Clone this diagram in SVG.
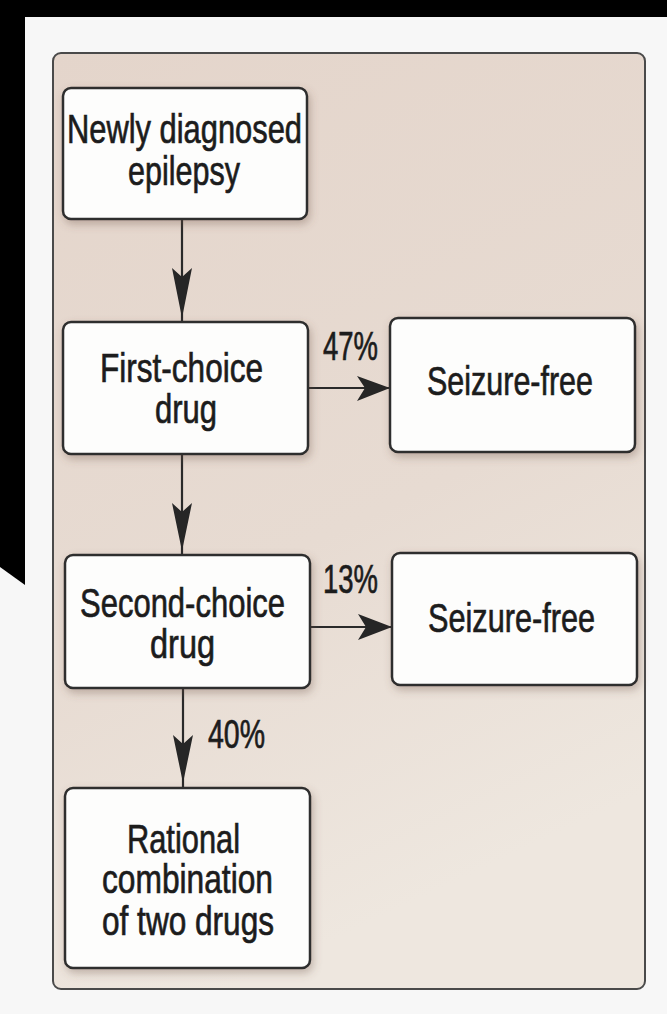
<svg xmlns="http://www.w3.org/2000/svg" width="667" height="1014" viewBox="0 0 667 1014">
  <style>
    .box { fill: #fdfdfc; stroke: #2e2e2e; stroke-width: 2.5; filter: url(#shadow); }
    .t { font-family: "Liberation Sans", Arial, sans-serif; font-size: 41px; fill: #1c1c1c; stroke: #1c1c1c; stroke-width: 0.7; text-anchor: middle; }
    .lbl { font-family: "Liberation Sans", Arial, sans-serif; font-size: 40px; fill: #1c1c1c; stroke: #1c1c1c; stroke-width: 0.7; text-anchor: middle; }
    .line { stroke: #2a2a2a; stroke-width: 2.2; fill: none; }
    .head { fill: #262626; stroke: none; }
  </style>
  <defs>
    <linearGradient id="panelGrad" x1="0" y1="0" x2="0.3" y2="1">
      <stop offset="0" stop-color="#e4d5cb"/>
      <stop offset="0.6" stop-color="#e7dbd2"/>
      <stop offset="1" stop-color="#eee7df"/>
    </linearGradient>
    <filter id="shadow" x="-10%" y="-10%" width="125%" height="130%">
      <feDropShadow dx="2" dy="4" stdDeviation="4" flood-color="#6b5040" flood-opacity="0.35"/>
    </filter>
  </defs>

  <!-- background -->
  <rect x="0" y="0" width="667" height="1014" fill="#f7f7f7"/>
  <rect x="0" y="0" width="667" height="17" fill="#000"/>
  <polygon points="0,0 25,0 25,585 0,567" fill="#000"/>

  <!-- panel -->
  <rect id="panel" x="53" y="53" width="592" height="936" rx="8" fill="url(#panelGrad)" stroke="#4a4a4a" stroke-width="2"/>

  <g id="connectors">
    <line class="line" x1="182" y1="219" x2="182" y2="322"/>
    <path class="head" d="M182,318 L172,268 L182,277 L192,268 Z"/>
    <line class="line" x1="182" y1="454" x2="182" y2="555"/>
    <path class="head" d="M182,551 L172,503 L182,512 L192,503 Z"/>
    <line class="line" x1="183" y1="688" x2="183" y2="788"/>
    <path class="head" d="M183,783 L173,735 L183,744 L193,735 Z"/>
    <line class="line" x1="308" y1="388" x2="390" y2="388"/>
    <path class="head" d="M390,388 L357,376 L365,388 L357,401 Z"/>
    <line class="line" x1="310" y1="627" x2="392" y2="627"/>
    <path class="head" d="M392,627 L358,614 L366,627 L358,640 Z"/>
    <text class="lbl" x="350.5" y="360" textLength="55" lengthAdjust="spacingAndGlyphs">47%</text>
    <text class="lbl" x="350.5" y="593" textLength="55" lengthAdjust="spacingAndGlyphs">13%</text>
    <text class="lbl" x="236.5" y="748" textLength="57" lengthAdjust="spacingAndGlyphs">40%</text>
  </g>

  <g id="node-newly">
    <rect class="box" x="63" y="88" width="244" height="131" rx="8"/>
    <text class="t"><tspan x="184.5" y="143" textLength="235" lengthAdjust="spacingAndGlyphs">Newly diagnosed</tspan><tspan x="184" y="185" textLength="112" lengthAdjust="spacingAndGlyphs">epilepsy</tspan></text>
  </g>

  <g id="node-first">
    <rect class="box" x="63" y="322" width="245" height="132" rx="8"/>
    <text class="t"><tspan x="181.5" y="382" textLength="163" lengthAdjust="spacingAndGlyphs">First-choice</tspan><tspan x="186" y="423" textLength="62" lengthAdjust="spacingAndGlyphs">drug</tspan></text>
  </g>

  <g id="node-second">
    <rect class="box" x="65" y="555" width="245" height="133" rx="8"/>
    <text class="t"><tspan x="182.5" y="617" textLength="205" lengthAdjust="spacingAndGlyphs">Second-choice</tspan><tspan x="182.5" y="658" textLength="65" lengthAdjust="spacingAndGlyphs">drug</tspan></text>
  </g>

  <g id="node-rational">
    <rect class="box" x="65" y="788" width="245" height="180" rx="8"/>
    <text class="t"><tspan x="183.5" y="853" textLength="113" lengthAdjust="spacingAndGlyphs">Rational</tspan><tspan x="187.5" y="893" textLength="171" lengthAdjust="spacingAndGlyphs">combination</tspan><tspan x="188" y="935" textLength="172" lengthAdjust="spacingAndGlyphs">of two drugs</tspan></text>
  </g>

  <g id="node-seizure1">
    <rect class="box" x="390" y="318" width="245" height="134" rx="8"/>
    <text class="t" x="510" y="395" textLength="166" lengthAdjust="spacingAndGlyphs">Seizure-free</text>
  </g>

  <g id="node-seizure2">
    <rect class="box" x="392" y="553" width="245" height="132" rx="8"/>
    <text class="t" x="511.5" y="632" textLength="167" lengthAdjust="spacingAndGlyphs">Seizure-free</text>
  </g>
</svg>
